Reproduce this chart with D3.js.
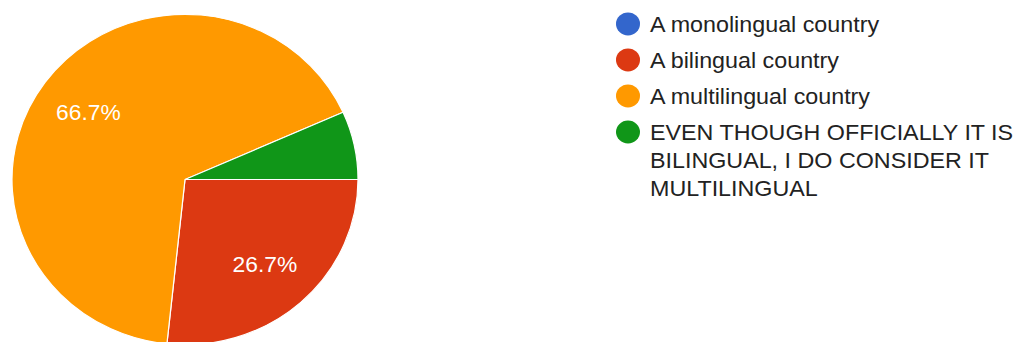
<!DOCTYPE html>
<html>
<head>
<meta charset="utf-8">
<script src="https://cdn.jsdelivr.net/npm/d3@7"></script>
<style>
  html, body { margin: 0; padding: 0; background: #fff; }
  svg { display: block; }
</style>
</head>
<body>
<svg id="chart" width="1015" height="342"></svg>
<script>
const categories = [
  "A monolingual country",
  "A bilingual country",
  "A multilingual country",
  "EVEN THOUGH OFFICIALLY IT IS BILINGUAL, I DO CONSIDER IT MULTILINGUAL"
];
const legendLines = [
  ["A monolingual country"],
  ["A bilingual country"],
  ["A multilingual country"],
  ["EVEN THOUGH OFFICIALLY IT IS", "BILINGUAL, I DO CONSIDER IT", "MULTILINGUAL"]
];
const counts = [0, 4, 10, 1];
const colors = ["#3366cc", "#dc3912", "#ff9900", "#109618"];

const svg = d3.select("#chart");
const root = svg.append("g").attr("transform", "scale(1,0.955)");

const cx = 185, cy = 188, r = 173;
const total = d3.sum(counts);
const pie = d3.pie().sort(null).value(d => d)
  .startAngle(Math.PI / 2).endAngle(Math.PI / 2 + 2 * Math.PI);
const arcs = pie(counts);
const arc = d3.arc().innerRadius(0).outerRadius(r);
const labelArc = d3.arc().innerRadius(r * 0.69).outerRadius(r * 0.69);

const g = root.append("g").attr("transform", `translate(${cx},${cy})`);
g.selectAll("path").data(arcs.filter(a => a.value > 0)).join("path")
  .attr("d", arc)
  .attr("fill", a => colors[a.index])
  .attr("stroke", "#fff")
  .attr("stroke-width", 1.2);

const fmt = v => (Math.round(v / total * 1000) / 10).toFixed(1) + "%";
g.selectAll("text").data(arcs.filter(a => a.value / total > 0.1)).join("text")
  .attr("x", a => labelArc.centroid(a)[0])
  .attr("y", a => labelArc.centroid(a)[1])
  .attr("text-anchor", "middle")
  .attr("dominant-baseline", "central")
  .attr("fill", "#fff")
  .attr("font-family", "'Liberation Sans', Arial, sans-serif")
  .attr("font-size", 22.8)
  .text(a => fmt(a.value));

// legend
const legendX = 628, textX = 650;
const rowY = [25.1, 62.8, 100.5, 138.2];
const lineH = 29.3;
const lg = root.append("g");
categories.forEach((c, i) => {
  lg.append("circle").attr("cx", legendX).attr("cy", rowY[i]).attr("r", 12).attr("fill", colors[i]);
  const t = lg.append("text")
    .attr("x", textX).attr("y", rowY[i])
    .attr("dominant-baseline", "central")
    .attr("fill", "#222")
    .attr("font-family", "'Liberation Sans', Arial, sans-serif")
    .attr("font-size", 23.3);
  legendLines[i].forEach((ln, j) => {
    t.append("tspan").attr("x", textX).attr("y", rowY[i] + j * lineH).text(ln);
  });
});
</script>
</body>
</html>
